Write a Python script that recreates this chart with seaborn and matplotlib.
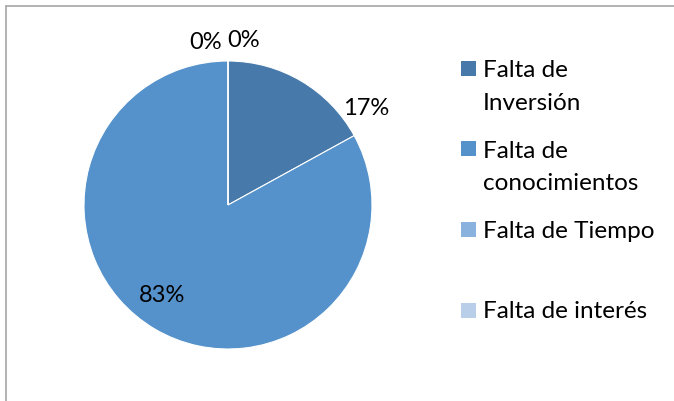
import numpy as np
import matplotlib
matplotlib.use("Agg")
import matplotlib.pyplot as plt
from matplotlib.patches import Rectangle
from matplotlib.lines import Line2D
import seaborn as sns

categories = ["Falta de\nInversión", "Falta de\nconocimientos", "Falta de Tiempo", "Falta de interés"]
values = [17, 83, 0, 0]
colors = ["#4779AA", "#5592CB", "#8AB2DF", "#B9CEE8"]

sns.set_theme(style="white")
plt.rcParams["font.family"] = ["Lato", "DejaVu Sans"]

W, H = 674, 401
FS = 17.5
fig = plt.figure(figsize=(W / 100, H / 100), dpi=100)
fig.patch.set_facecolor("white")

cx, cy, r = 228, 205, 144
ax = fig.add_axes([(cx - r) / W, (H - cy - r) / H, 2 * r / W, 2 * r / H])
wedges, texts, autotexts = ax.pie(
    values, colors=colors, startangle=90, counterclock=False,
    autopct="%.0f%%", pctdistance=0.8,
    wedgeprops=dict(edgecolor="white", linewidth=0.8),
    textprops=dict(fontsize=17, color="black"),
)
ax.set_xlim(-1, 1)
ax.set_ylim(-1, 1)
ax.set_aspect("equal")
ax.axis("off")

# label placement (style): angle offset (deg) and radius relative to pie
offsets = [(-24.4, 1.17), (-5.4, 0.78), (8.0, 1.14), (-5.5, 1.15)]
for w, t, (da, rr) in zip(wedges, autotexts, offsets):
    mid = np.deg2rad((w.theta1 + w.theta2) / 2 + da)
    t.set_position((rr * np.cos(mid), rr * np.sin(mid)))
    t.set_ha("center")
    t.set_va("center")
    t.set_clip_on(False)

# legend drawn manually to match spacing
top0 = 61
step = 80.5
line_h = 33
for i, (lab, col) in enumerate(zip(categories, colors)):
    y = top0 + i * step
    fig.patches.append(Rectangle((461 / W, 1 - (y + 15) / H), 15 / W, 15 / H,
                                 transform=fig.transFigure, facecolor=col, edgecolor="none"))
    for k, line in enumerate(lab.split("\n")):
        fig.text(483 / W, 1 - (y + 16 + k * line_h) / H, line, fontsize=FS,
                 va="baseline", ha="left", color="black")

# border (top and left)
fig.add_artist(Line2D([5.5 / W, 1], [1 - 6 / H, 1 - 6 / H], color="#A6A6A6", linewidth=1.2,
                      transform=fig.transFigure))
fig.add_artist(Line2D([5.5 / W, 5.5 / W], [0, 1 - 6 / H], color="#A6A6A6", linewidth=1.2,
                      transform=fig.transFigure))

fig.savefig("out.png", dpi=100, facecolor="white")
